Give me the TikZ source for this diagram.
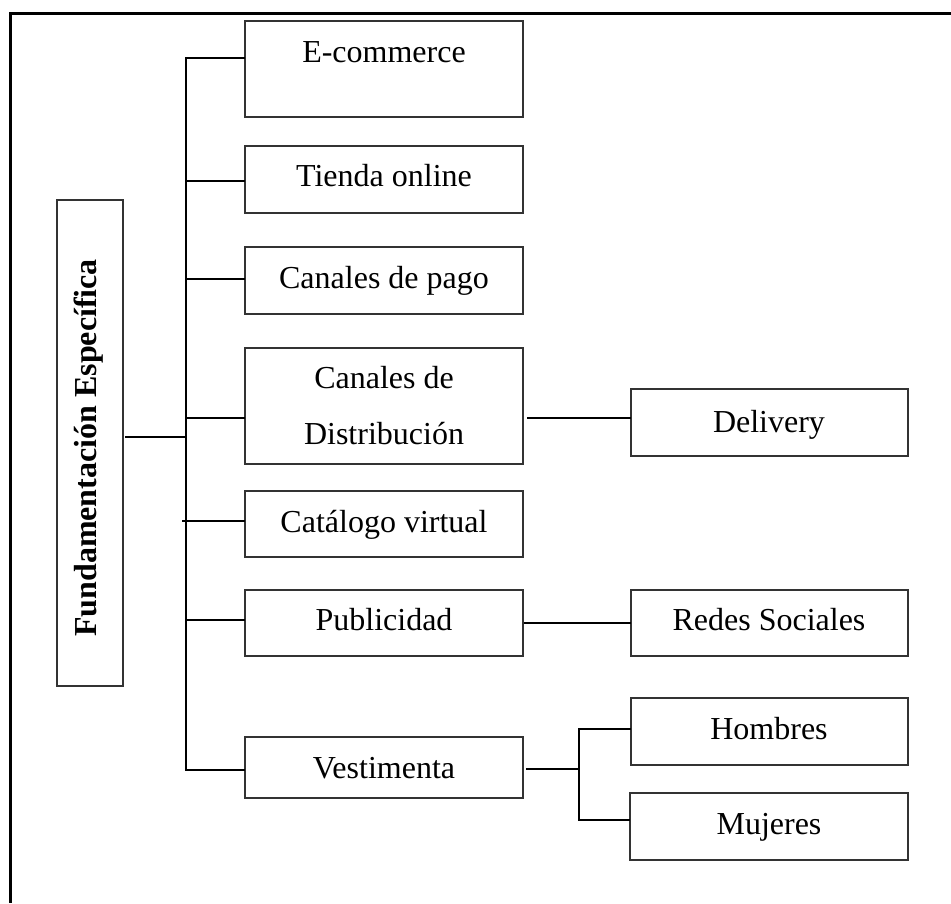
\documentclass[tikz,border=0pt]{standalone}
\usepackage{fontspec}
\setmainfont{Liberation Serif}
\begin{document}
\begin{tikzpicture}[x=1pt,y=-1pt,
  box/.style={draw=black!80, line width=1.4pt, inner sep=0pt, outer sep=0pt, anchor=north west},
  txt/.style={font=\fontsize{32}{38}\selectfont, inner sep=0pt, anchor=base},
  conn/.style={line width=2.6pt, black},
  frame/.style={line width=3pt, black}]
\path[use as bounding box] (0,0) rectangle (951,903);
\draw[frame] (951,13) -- (10,13) -- (10,903);

% boxes
\node[box, minimum width=66, minimum height=486] (fund) at (57,200) {};
\node[rotate=90, inner sep=0pt, font=\bfseries\fontsize{32}{38}\selectfont] (fundT) at (89,448) {Fundamentación Específica};

\node[box, minimum width=278, minimum height=96] (ecom) at (245,21) {};
\node[box, minimum width=278, minimum height=67] (tien) at (245,146) {};
\node[box, minimum width=278, minimum height=67] (pago) at (245,247) {};
\node[box, minimum width=278, minimum height=116] (dist) at (245,348) {};
\node[box, minimum width=278, minimum height=66] (cat) at (245,491) {};
\node[box, minimum width=278, minimum height=66] (pub) at (245,590) {};
\node[box, minimum width=278, minimum height=61] (vest) at (245,737) {};

\node[box, minimum width=277, minimum height=67] (del) at (631,389) {};
\node[box, minimum width=277, minimum height=66] (red) at (631,590) {};
\node[box, minimum width=277, minimum height=67] (hom) at (631,698) {};
\node[box, minimum width=278, minimum height=67] (muj) at (630,793) {};

% texts
\node[txt] (ecomT) at (384,62) {E-commerce};
\node[txt] (tienT) at (384,186) {Tienda online};
\node[txt] (pagoT) at (384,288) {Canales de pago};
\node[txt] (distT1) at (384,388) {Canales de};
\node[txt] (distT2) at (384,444) {Distribución};
\node[txt] (catT) at (384,532) {Catálogo virtual};
\node[txt] (pubT) at (384,630) {Publicidad};
\node[txt] (vestT) at (384,778) {Vestimenta};
\node[txt] (delT) at (769,432) {Delivery};
\node[txt] (redT) at (769,630) {Redes Sociales};
\node[txt] (homT) at (769,739) {Hombres};
\node[txt] (mujT) at (769,834) {Mujeres};

% trunk and branches
\coordinate (tTop) at (186,58);
\coordinate (tBot) at (186,770);
\coordinate (fj) at (186,437);
\coordinate (c2) at (186,181);
\coordinate (c3) at (186,279);
\coordinate (c4) at (186,418);
\coordinate (c5) at (186,521);
\coordinate (c5a) at (182,521);
\coordinate (c6) at (186,620);

\draw[conn] (tTop -| ecom.west) -- (tTop) -- (tBot) -- (tBot -| vest.west);
\draw[conn] ([xshift=2pt]fund.east |- fj) -- (fj);
\draw[conn] (c2) -- (c2 -| tien.west);
\draw[conn] (c3) -- (c3 -| pago.west);
\draw[conn] (c4) -- (c4 -| dist.west);
\draw[conn] (c5a) -- (c5 -| cat.west);
\draw[conn] (c6) -- (c6 -| pub.west);

% right side
\coordinate (d1) at (527,418);
\draw[conn] (d1) -- (d1 -| del.west);
\coordinate (p1) at (524,623);
\draw[conn] (p1) -- (p1 -| red.west);
\coordinate (b0) at (526,769);
\coordinate (b1) at (579,769);
\coordinate (bh) at (579,729);
\coordinate (bm) at (579,820);
\draw[conn] (b0) -- (b1);
\draw[conn] (hom.west |- bh) -- (bh) -- (bm) -- (bm -| muj.west);
\end{tikzpicture}
\end{document}
